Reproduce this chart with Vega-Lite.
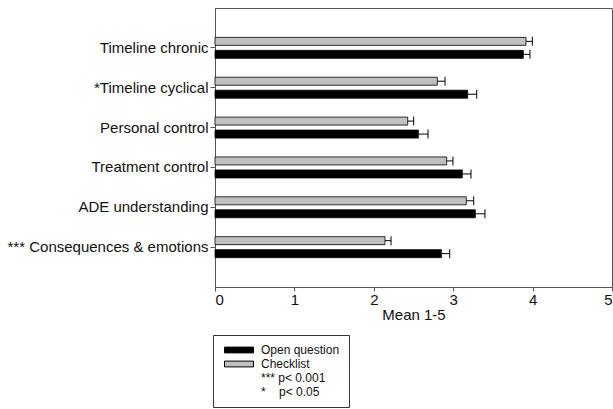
{
  "$schema": "https://vega.github.io/schema/vega-lite/v6.json",
  "width": 397,
  "height": 279,
  "autosize": "none",
  "padding": {"left": 215, "top": 8, "right": 1, "bottom": 122},
  "config": {
    "font": "Liberation Sans",
    "view": {"stroke": "#555", "strokeWidth": 1},
    "axis": {
      "grid": false,
      "domainColor": "#555",
      "tickColor": "#555",
      "tickSize": 5,
      "labelColor": "#111",
      "labelFontSize": 15,
      "titleFontSize": 15,
      "titleFontWeight": "normal",
      "titleColor": "#111",
      "labelPadding": 2
    }
  },
  "data": {
    "values": [
      {"category": "Timeline chronic", "series": "Checklist", "value": 3.917, "upper": 3.997},
      {"category": "Timeline chronic", "series": "Open question", "value": 3.883, "upper": 3.967},
      {"category": "*Timeline cyclical", "series": "Checklist", "value": 2.80, "upper": 2.897},
      {"category": "*Timeline cyclical", "series": "Open question", "value": 3.182, "upper": 3.296},
      {"category": "Personal control", "series": "Checklist", "value": 2.427, "upper": 2.502},
      {"category": "Personal control", "series": "Open question", "value": 2.561, "upper": 2.683},
      {"category": "Treatment control", "series": "Checklist", "value": 2.918, "upper": 2.997},
      {"category": "Treatment control", "series": "Open question", "value": 3.115, "upper": 3.224},
      {"category": "ADE understanding", "series": "Checklist", "value": 3.165, "upper": 3.258},
      {"category": "ADE understanding", "series": "Open question", "value": 3.279, "upper": 3.40},
      {"category": "*** Consequences & emotions", "series": "Checklist", "value": 2.141, "upper": 2.217},
      {"category": "*** Consequences & emotions", "series": "Open question", "value": 2.851, "upper": 2.956}
    ]
  },
  "encoding": {
    "y": {
      "field": "category",
      "type": "nominal",
      "sort": ["Timeline chronic", "*Timeline cyclical", "Personal control", "Treatment control", "ADE understanding", "*** Consequences & emotions"],
      "scale": {"paddingInner": 0, "paddingOuter": 0.5},
      "axis": {"title": null, "bandPosition": 0.5, "labelLimit": 300}
    },
    "yOffset": {
      "field": "series",
      "type": "nominal",
      "sort": ["Checklist", "Open question"],
      "scale": {"paddingInner": 0.385, "paddingOuter": 0.726}
    }
  },
  "layer": [
    {
      "mark": {"type": "bar", "strokeWidth": 0.8},
      "encoding": {
        "x": {
          "field": "value",
          "type": "quantitative",
          "scale": {"domain": [0, 5], "nice": false},
          "axis": {"title": "Mean 1-5", "values": [0, 1, 2, 3, 4, 5], "format": "d", "titlePadding": 0, "tickSize": 4, "labelPadding": 1}
        },
        "stroke": {
          "field": "series",
          "type": "nominal",
          "scale": {
            "domain": ["Open question", "Checklist", "***\u00a0p< 0.001", "*\u00a0\u00a0\u00a0\u00a0p< 0.05"],
            "range": ["black", "black", "transparent", "transparent"]
          }
        },
        "color": {
          "field": "series",
          "type": "nominal",
          "scale": {
            "domain": ["Open question", "Checklist", "***\u00a0p< 0.001", "*\u00a0\u00a0\u00a0\u00a0p< 0.05"],
            "range": ["black", "#c0c0c0", "transparent", "transparent"]
          },
          "legend": {
            "title": null,
            "orient": "none",
            "legendX": -2,
            "legendY": 327,
            "padding": 9,
            "strokeColor": "#333",
            "labelFontSize": 12,
            "labelColor": "#111",
            "labelOffset": 27,
            "rowPadding": 2,
            "symbolType": "M-1,-0.83H7.28V0.83H-1Z",
            "symbolSize": 49,
            "symbolStrokeWidth": 1,
            "symbolOpacity": 1
          }
        }
      }
    },
    {
      "mark": {"type": "rule", "color": "black", "strokeWidth": 1},
      "encoding": {
        "x": {"field": "value", "type": "quantitative"},
        "x2": {"field": "upper"}
      }
    },
    {
      "mark": {"type": "tick", "color": "black", "thickness": 1, "size": 9, "opacity": 1},
      "encoding": {
        "x": {"field": "upper", "type": "quantitative"}
      }
    }
  ]
}
